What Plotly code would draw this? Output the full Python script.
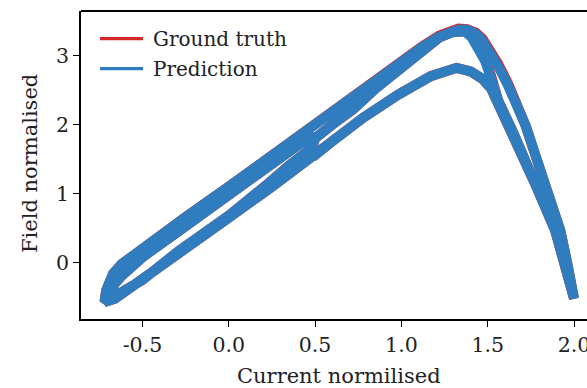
import plotly.graph_objects as go

# ---------------- data ----------------
# inner right branch: from (2.0,-0.52) up to the lower peak
inner_x = [2.0, 1.95, 1.89, 1.81, 1.73, 1.65, 1.56, 1.52, 1.47, 1.40, 1.32]
inner_y = [-0.52, -0.05, 0.47, 0.95, 1.40, 1.87, 2.35, 2.52, 2.66, 2.77, 2.82]
# lower branch: from the lower peak down to the bottom-left tip
lower_x = [1.32, 1.25, 1.17, 0.98, 0.78, 0.59, 0.50, 0.25, 0.00, -0.25, -0.50, -0.60, -0.66, -0.72]
lower_y = [2.82, 2.78, 2.70, 2.43, 2.10, 1.74, 1.56, 1.10, 0.65, 0.19, -0.27, -0.43, -0.52, -0.57]
# lower branch, second pass, stopping at the reversal near x=0.47
lowr_x = [1.32, 1.25, 1.17, 0.98, 0.78, 0.59, 0.50, 0.47]
lowr_y = [2.82, 2.78, 2.70, 2.43, 2.10, 1.74, 1.56, 1.58]
# minor loop: up the middle line, reverse at x~0.49, back down just above the lower branch
minor_x = [-0.72, -0.69, -0.66, -0.62, -0.50, -0.25, 0.00, 0.25, 0.42, 0.49, 0.48, 0.46,
           0.35, 0.27, 0.24, 0.00, -0.26, -0.29, -0.50, -0.64, -0.72]
minor_y = [-0.57, -0.42, -0.30, -0.19, 0.08, 0.53, 0.98, 1.43, 1.76, 1.86, 1.76, 1.62,
           1.41, 1.26, 1.17, 0.68, 0.23, 0.17, -0.25, -0.48, -0.57]
# major ascending branch
topa_x = [-0.72, -0.71, -0.67, -0.62, -0.50, -0.25, 0.00, 0.25, 0.50, 0.75, 1.00,
          1.12, 1.22, 1.28, 1.33, 1.38]
topa_y = [-0.57, -0.40, -0.16, -0.02, 0.21, 0.66, 1.10, 1.56, 2.02, 2.46, 2.90,
          3.13, 3.29, 3.36, 3.39, 3.38]
# outer descending branch
outer_x = [1.38, 1.43, 1.47, 1.51, 1.56, 1.62, 1.66, 1.72, 1.79, 1.85, 1.89, 1.92, 1.96, 2.0]
outer_y = [3.38, 3.33, 3.24, 3.10, 2.88, 2.58, 2.35, 1.98, 1.45, 0.98, 0.70, 0.47, 0.00, -0.52]
# ascending line after the reversal at x~0.47, just below the major branch
midup_x = [0.47, 0.50, 0.60, 0.72, 0.85, 1.00, 1.12, 1.22, 1.30, 1.37]
midup_y = [1.58, 1.80, 2.00, 2.22, 2.52, 2.82, 3.08, 3.26, 3.34, 3.35]
# steeper descent from the upper peak that joins the inner branch
steep_x = [1.37, 1.41, 1.45, 1.49, 1.52, 1.54, 1.56, 1.65, 1.73, 1.81, 1.89, 1.95, 2.0]
steep_y = [3.35, 3.27, 3.12, 2.92, 2.70, 2.50, 2.35, 1.87, 1.40, 0.95, 0.47, -0.05, -0.52]

# prediction deviates slightly near the peaks only
p_topa_y = [-0.57, -0.40, -0.16, -0.02, 0.21, 0.66, 1.10, 1.56, 2.02, 2.46, 2.90,
            3.12, 3.27, 3.34, 3.37, 3.37]
p_outer_x = [1.38, 1.425, 1.465, 1.505, 1.555, 1.615, 1.66, 1.72, 1.79, 1.85, 1.89, 1.92, 1.96, 2.0]
p_outer_y = [3.37, 3.32, 3.23, 3.09, 2.87, 2.58, 2.35, 1.98, 1.45, 0.98, 0.70, 0.47, 0.00, -0.52]
p_steep_x = [1.37, 1.405, 1.445, 1.485, 1.515, 1.535, 1.56, 1.65, 1.73, 1.81, 1.89, 1.95, 2.0]
p_steep_y = [3.34, 3.27, 3.12, 2.92, 2.70, 2.50, 2.35, 1.87, 1.40, 0.95, 0.47, -0.05, -0.52]

x_ticks = [-0.5, 0.0, 0.5, 1.0, 1.5, 2.0]
y_ticks = [0, 1, 2, 3]

gt_x = inner_x + lower_x + minor_x + topa_x + outer_x + inner_x + lowr_x + midup_x + steep_x
gt_y = inner_y + lower_y + minor_y + topa_y + outer_y + inner_y + lowr_y + midup_y + steep_y
pr_x = inner_x + lower_x + minor_x + topa_x + p_outer_x + inner_x + lowr_x + midup_x + p_steep_x
pr_y = inner_y + lower_y + minor_y + p_topa_y + p_outer_y + inner_y + lowr_y + midup_y + p_steep_y

RED = "#d62728"
BLUE = "#2f7cbf"
FONT = "DejaVu Serif"
TICK_FS = 20.5
LEG_FS = 20
LAB_FS = 21

fig = go.Figure()
fig.add_trace(go.Scatter(x=gt_x, y=gt_y, mode="lines", name="Ground truth",
                         line=dict(color=RED, width=10)))
fig.add_trace(go.Scatter(x=pr_x, y=pr_y, mode="lines", name="Prediction",
                         line=dict(color=BLUE, width=10)))

L, T, W, H, B = 81, 11, 587, 388, 69
PW, PH = W - L, H - T - B

def px(xp):
    return (xp - L) / PW

def py(yp):
    return (H - B - yp) / PH

axis_common = dict(showgrid=False, zeroline=False, showline=True, linecolor="black",
                   linewidth=1.8, ticks="outside", ticklen=6, tickwidth=1.4,
                   tickcolor="black", tickfont=dict(family=FONT, size=TICK_FS, color="#222"),
                   ticklabeloverflow="allow", automargin=False)

fig.update_layout(
    width=W, height=H,
    margin=dict(l=L, r=0, t=T, b=B, pad=0),
    paper_bgcolor="white", plot_bgcolor="white",
    showlegend=False,
    xaxis=dict(range=[-0.856, 2.075], tickvals=x_ticks,
               ticktext=[f"{v:.1f}" for v in x_ticks], **axis_common),
    yaxis=dict(range=[-0.815, 3.643], tickvals=y_ticks,
               ticktext=[str(v) for v in y_ticks], **axis_common),
    shapes=[
        dict(type="line", xref="paper", yref="paper", x0=0, x1=1, y0=1, y1=1,
             line=dict(color="black", width=1.8)),
        dict(type="line", xref="paper", yref="paper", x0=px(100), x1=px(143),
             y0=py(38.7), y1=py(38.7), line=dict(color=RED, width=3.2)),
        dict(type="line", xref="paper", yref="paper", x0=px(100), x1=px(143),
             y0=py(68.7), y1=py(68.7), line=dict(color=BLUE, width=3.2)),
    ],
    annotations=[
        dict(text="Ground truth", xref="paper", yref="paper", x=px(151), y=py(38.7),
             xanchor="left", yanchor="middle", showarrow=False,
             font=dict(family=FONT, size=LEG_FS, color="#222")),
        dict(text="Prediction", xref="paper", yref="paper", x=px(151), y=py(68.7),
             xanchor="left", yanchor="middle", showarrow=False,
             font=dict(family=FONT, size=LEG_FS, color="#222")),
        dict(text="Current normilised", xref="paper", yref="paper", x=px(339), y=py(376),
             xanchor="center", yanchor="middle", showarrow=False,
             font=dict(family=FONT, size=LAB_FS, color="#222")),
        dict(text="Field normalised", xref="paper", yref="paper", x=px(30), y=py(164),
             xanchor="center", yanchor="middle", showarrow=False, textangle=-90,
             font=dict(family=FONT, size=LAB_FS, color="#222")),
    ],
)

fig.write_html("out.html")
